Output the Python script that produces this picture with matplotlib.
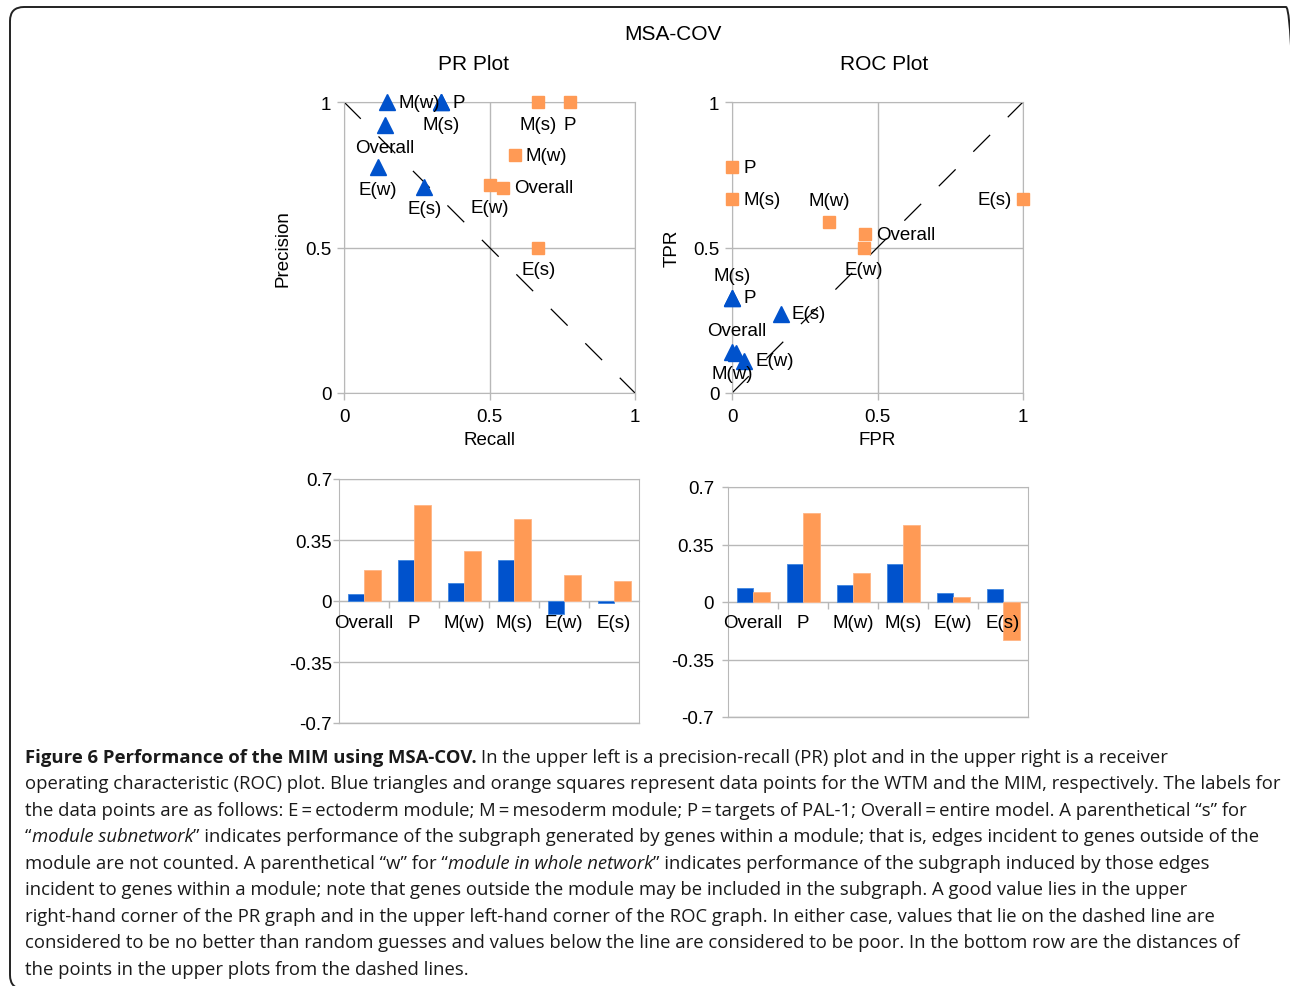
import numpy as np
import matplotlib
matplotlib.use("Agg")
import matplotlib.pyplot as plt
from matplotlib.patches import FancyBboxPatch
from matplotlib.transforms import IdentityTransform

plt.rcParams['font.family'] = ['Liberation Sans', 'DejaVu Sans']

BLUE = '#0052cc'
ORANGE = '#ff9a55'
GRID = '#b8b8b8'

# --- data ---
point_labels = ['Overall', 'P', 'M(w)', 'M(s)', 'E(w)', 'E(s)']

# PR plot (blue = WTM triangles, orange = MIM squares)
pr_blue_recall = [0.140, 0.333, 0.148, 0.333, 0.116, 0.276]
pr_blue_precision = [0.920, 1.000, 1.000, 1.000, 0.775, 0.709]
pr_orange_recall = [0.547, 0.777, 0.587, 0.668, 0.500, 0.668]
pr_orange_precision = [0.706, 1.000, 0.817, 1.000, 0.714, 0.500]

# ROC plot
roc_blue_fpr = [0.015, 0.000, 0.000, 0.000, 0.041, 0.167]
roc_blue_tpr = [0.137, 0.328, 0.142, 0.328, 0.111, 0.273]
roc_orange_fpr = [0.458, 0.000, 0.333, 0.000, 0.454, 1.000]
roc_orange_tpr = [0.546, 0.775, 0.586, 0.666, 0.500, 0.666]

# distances from the dashed lines (bottom row)
categories = ['Overall', 'P', 'M(w)', 'M(s)', 'E(w)', 'E(s)']
pr_dist_blue = [0.042, 0.233, 0.101, 0.233, -0.077, -0.010]
pr_dist_orange = [0.178, 0.549, 0.285, 0.469, 0.149, 0.117]
roc_dist_blue = [0.086, 0.234, 0.102, 0.234, 0.054, 0.078]
roc_dist_orange = [0.058, 0.544, 0.176, 0.468, 0.032, -0.234]

# where each point label sits: r=right, l=left, a=above, b=below
pr_blue_pos = ['b', 'r', 'r', 'b', 'b', 'b']
pr_orange_pos = ['r', 'b', 'r', 'b', 'b', 'b']
roc_blue_pos = ['a', 'r', 'b', 'a', 'r', 'r']
roc_orange_pos = ['r', 'r', 'a', 'r', 'b', 'l']

caption_lines = [
    [('bold', 'Figure 6 Performance of the MIM using MSA-COV.'),
     ('normal', ' In the upper left is a precision-recall (PR) plot and in the upper right is a receiver')],
    [('normal', 'operating characteristic (ROC) plot. Blue triangles and orange squares represent data points for the WTM and the MIM, respectively. The labels for')],
    [('normal', 'the data points are as follows: E\u2009=\u2009ectoderm module; M\u2009=\u2009mesoderm module; P\u2009=\u2009targets of PAL-1; Overall\u2009=\u2009entire model. A parenthetical \u201cs\u201d for')],
    [('normal', '\u201c'), ('italic', 'module subnetwork'),
     ('normal', '\u201d indicates performance of the subgraph generated by genes within a module; that is, edges incident to genes outside of the')],
    [('normal', 'module are not counted. A parenthetical \u201cw\u201d for \u201c'), ('italic', 'module in whole network'),
     ('normal', '\u201d indicates performance of the subgraph induced by those edges')],
    [('normal', 'incident to genes within a module; note that genes outside the module may be included in the subgraph. A good value lies in the upper')],
    [('normal', 'right-hand corner of the PR graph and in the upper left-hand corner of the ROC graph. In either case, values that lie on the dashed line are')],
    [('normal', 'considered to be no better than random guesses and values below the line are considered to be poor. In the bottom row are the distances of')],
    [('normal', 'the points in the upper plots from the dashed lines.')],
]

W, H = 1290, 987
fig = plt.figure(figsize=(W / 100, H / 100), dpi=100)


def px_axes(left, top, right, bottom):
    return fig.add_axes([left / W, 1 - bottom / H, (right - left) / W, (bottom - top) / H])


OFFS = {'r': ((8, 0), 'left', 'center'),
        'l': ((-8, 0), 'right', 'center'),
        'a': ((0, 16), 'center', 'center'),
        'b': ((0, -16), 'center', 'center')}


def label_points(ax, xs, ys, pos):
    for name, x, y, p in zip(point_labels, xs, ys, pos):
        off, ha, va = OFFS[p]
        ax.annotate(name, (x, y), xytext=off, textcoords='offset points',
                    ha=ha, va=va, fontsize=13.5, zorder=5, annotation_clip=False)


def scatter_panel(ax, bx, by, ox, oy, bpos, opos, xlabel, ylabel, diag_x, diag_y):
    ax.set_xlim(0, 1)
    ax.set_ylim(0, 1)
    ax.set_xticks([0, 0.5, 1])
    ax.set_yticks([0, 0.5, 1])
    ax.set_xticklabels(['0', '0.5', '1'])
    ax.set_yticklabels(['0', '0.5', '1'])
    ax.grid(True, color=GRID, lw=1)
    ax.set_axisbelow(True)
    for s in ax.spines.values():
        s.set_color(GRID)
    ax.tick_params(color=GRID, length=5, width=1, labelsize=13.5, pad=4)
    ax.tick_params(axis='x', pad=6)
    ax.plot(diag_x, diag_y, color='black', lw=0.9, dashes=(19, 20), zorder=2)
    ax.plot(bx, by, ls='none', marker='^', ms=11, color=BLUE, clip_on=False, zorder=3)
    ax.plot(ox, oy, ls='none', marker='s', ms=8.5, color=ORANGE, clip_on=False, zorder=3)
    label_points(ax, bx, by, bpos)
    label_points(ax, ox, oy, opos)
    ax.set_xlabel(xlabel, fontsize=13.5)
    ax.set_ylabel(ylabel, fontsize=13.5)


ax_pr = px_axes(344, 103, 635, 394)
scatter_panel(ax_pr, pr_blue_recall, pr_blue_precision, pr_orange_recall, pr_orange_precision,
              pr_blue_pos, pr_orange_pos, 'Recall', 'Precision', [0, 1], [1, 0])
ax_pr.xaxis.set_label_coords(0.5, -0.132)
ax_pr.yaxis.set_label_coords(-0.182, 0.5)

ax_roc = px_axes(732, 103, 1023, 394)
scatter_panel(ax_roc, roc_blue_fpr, roc_blue_tpr, roc_orange_fpr, roc_orange_tpr,
              roc_blue_pos, roc_orange_pos, 'FPR', 'TPR', [0, 1], [0, 1])
ax_roc.xaxis.set_label_coords(0.5, -0.132)
ax_roc.yaxis.set_label_coords(-0.175, 0.5)


def bar_panel(ax, blue, orange, ypad):
    x = np.arange(len(categories))
    w = 0.33
    ax.bar(x - w / 2, blue, w, color=BLUE, edgecolor='#3f86e0', lw=0.6, zorder=3)
    ax.bar(x + w / 2, orange, w, color=ORANGE, edgecolor='#ffb585', lw=0.6, zorder=3)
    ax.set_xlim(-0.5, len(categories) - 0.5)
    ax.set_ylim(-0.7, 0.7)
    ax.set_yticks([0.7, 0.35, 0, -0.35, -0.7])
    ax.set_yticklabels(['0.7', '0.35', '0', '-0.35', '-0.7'])
    ax.yaxis.grid(True, color=GRID, lw=1)
    ax.set_axisbelow(True)
    for s in ax.spines.values():
        s.set_color(GRID)
    # category axis runs along zero, frame bottom drawn separately
    ax.spines['bottom'].set_position(('data', 0))
    ax.axhline(-0.7, color=GRID, lw=1, clip_on=False, zorder=1)
    ax.set_xticks(x[:-1] + 0.5)
    ax.set_xticklabels([])
    ax.tick_params(axis='x', color=GRID, length=5, width=1)
    ax.tick_params(axis='y', color=GRID, length=4, width=1, labelsize=13.5, pad=ypad)
    for i, name in enumerate(categories):
        ax.annotate(name, (i, 0), xytext=(0, -9), textcoords='offset points',
                    ha='center', va='top', fontsize=13.5, zorder=6)


ax_b1 = px_axes(339, 480, 639, 724)
bar_panel(ax_b1, pr_dist_blue, pr_dist_orange, 1)
ax_b2 = px_axes(728, 488, 1028, 718)
bar_panel(ax_b2, roc_dist_blue, roc_dist_orange, 6)

fig.text(673 / W, 1 - 34 / H, 'MSA-COV', ha='center', va='center', fontsize=15)
fig.text(474 / W, 1 - 65 / H, 'PR Plot', ha='center', va='center', fontsize=15)
fig.text(884 / W, 1 - 65 / H, 'ROC Plot', ha='center', va='center', fontsize=15)

# rounded frame around the figure (right and bottom corners sit at the edges)
frame = FancyBboxPatch((10, -3), 1290, H - 8 + 3, boxstyle='round,pad=0,rounding_size=14',
                       transform=IdentityTransform(), fill=False, ec='#222222', lw=1.4)
fig.add_artist(frame)

# caption with mixed bold / italic runs
cap_font = ['Open Sans', 'DejaVu Sans']
cap_size = 13.3
renderer = fig.canvas.get_renderer()


def text_width(s, **kw):
    t = fig.text(0, 0, s, fontsize=cap_size, family=cap_font, **kw)
    w = t.get_window_extent(renderer).width
    t.remove()
    return w


space_w = text_width('a a') - text_width('aa')
y0 = 763
for i, runs in enumerate(caption_lines):
    x = 25
    y = H - (y0 + i * 26.5)
    for style, s in runs:
        kw = {'fontweight': 'bold'} if style == 'bold' else {}
        if style == 'italic':
            kw = {'fontstyle': 'italic'}
        if s.startswith(' '):
            x += space_w
            s = s.lstrip(' ')
        t = fig.text(x / W, y / H, s, fontsize=cap_size, family=cap_font, color='#1a1a1a',
                     ha='left', va='baseline', **kw)
        x += t.get_window_extent(renderer).width

fig.savefig('out.png', dpi=100)
